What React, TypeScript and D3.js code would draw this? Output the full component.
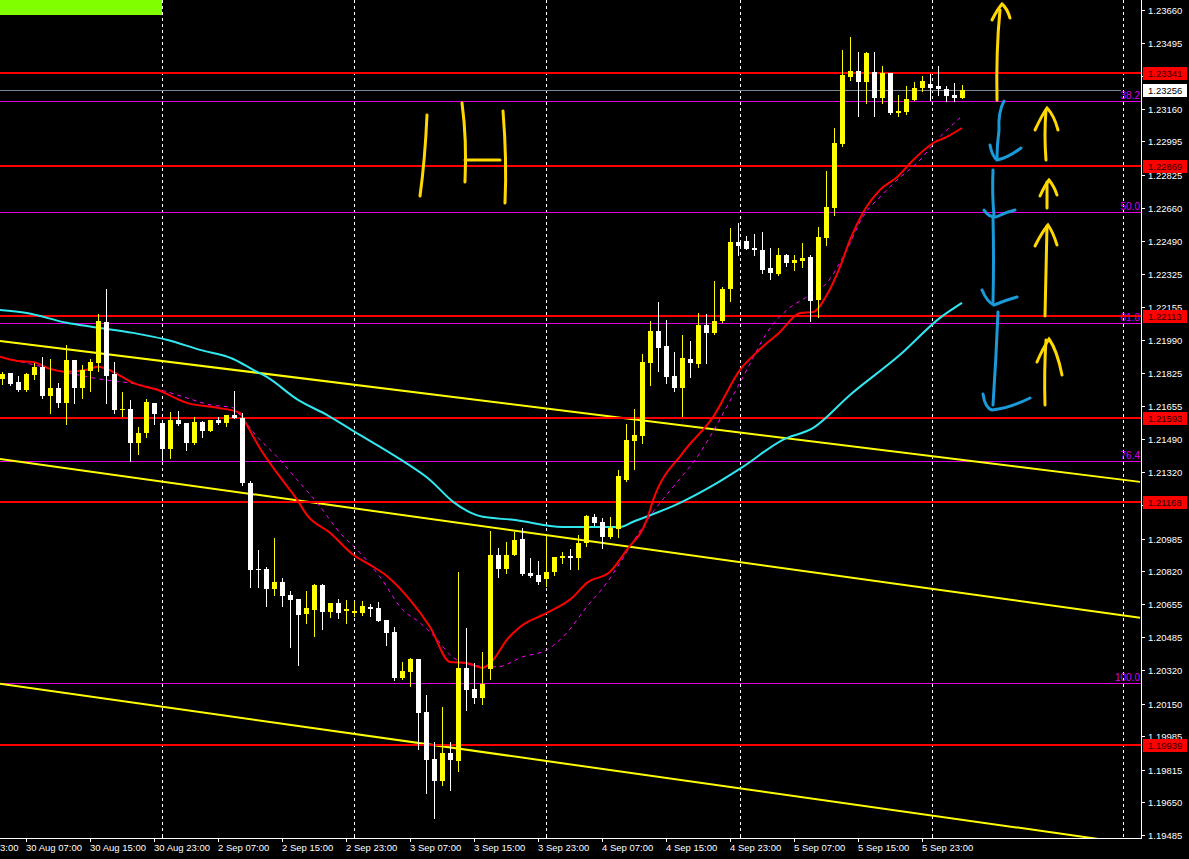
import React from 'react';
import * as d3 from 'd3';

// EURUSD H1, bar 0 = 30 Aug 04:00
const opens = [
  1.21793, 1.21824, 1.21778, 1.21738, 1.21813, 1.21854, 1.21707, 1.21748, 1.21672, 1.21889,
  1.21748, 1.21834, 1.21874, 1.22082, 1.21819, 1.21636, 1.21641, 1.21469, 1.21520, 1.21672,
  1.21571, 1.21439, 1.21586, 1.21571, 1.21469, 1.21576, 1.21530, 1.21586, 1.21571, 1.21611,
  1.21596, 1.21267, 1.20832, 1.20832, 1.20731, 1.20766, 1.20700, 1.20680, 1.20604, 1.20624,
  1.20751, 1.20614, 1.20660, 1.20619, 1.20609, 1.20609, 1.20640, 1.20635, 1.20574, 1.20513,
  1.20280, 1.20311, 1.20376, 1.20108, 1.19870, 1.19759, 1.19901, 1.19860, 1.20331, 1.20225,
  1.20179, 1.20326, 1.20903, 1.20832, 1.20903, 1.20984, 1.20812, 1.20801, 1.20781, 1.20817,
  1.20888, 1.20898, 1.20888, 1.20963, 1.21095, 1.21070, 1.20994, 1.21034, 1.21282, 1.21480,
  1.21505, 1.21874, 1.22036, 1.21960, 1.21808, 1.21748, 1.21894, 1.21869, 1.22066, 1.22026,
  1.22087, 1.22249, 1.22486, 1.22492, 1.22456, 1.22446, 1.22355, 1.22325, 1.22421, 1.22380,
  1.22390, 1.22411, 1.22193, 1.22507, 1.22659, 1.22982, 1.23321, 1.23352, 1.23296, 1.23347,
  1.23215, 1.23342, 1.23139, 1.23144, 1.23205, 1.23266, 1.23286, 1.23276, 1.23261, 1.23230,
  1.23215,
];
const highs = [
  1.21829, 1.21824, 1.21808, 1.21824, 1.21874, 1.21905, 1.21894, 1.21773, 1.21965, 1.21889,
  1.21864, 1.21894, 1.22122, 1.22249, 1.21879, 1.21727, 1.21687, 1.21550, 1.21692, 1.21672,
  1.21576, 1.21626, 1.21631, 1.21571, 1.21601, 1.21581, 1.21586, 1.21601, 1.21611, 1.21733,
  1.21621, 1.21277, 1.20928, 1.20842, 1.20989, 1.20786, 1.20721, 1.20680, 1.20721, 1.20756,
  1.20756, 1.20660, 1.20680, 1.20675, 1.20670, 1.20670, 1.20655, 1.20665, 1.20574, 1.20538,
  1.20361, 1.20382, 1.20376, 1.20194, 1.19956, 1.20134, 1.19956, 1.20817, 1.20533, 1.20356,
  1.20412, 1.21024, 1.20938, 1.20968, 1.21019, 1.21039, 1.20888, 1.20872, 1.20999, 1.20893,
  1.20918, 1.20933, 1.21004, 1.21105, 1.21110, 1.21090, 1.21095, 1.21333, 1.21566, 1.21641,
  1.21920, 1.22087, 1.22183, 1.22092, 1.21930, 1.22016, 1.21986, 1.22127, 1.22122, 1.22289,
  1.22259, 1.22557, 1.22583, 1.22517, 1.22527, 1.22537, 1.22456, 1.22456, 1.22426, 1.22421,
  1.22481, 1.22421, 1.22562, 1.22846, 1.23063, 1.23458, 1.23524, 1.23448, 1.23448, 1.23448,
  1.23377, 1.23342, 1.23230, 1.23276, 1.23296, 1.23326, 1.23337, 1.23377, 1.23276, 1.23291,
  1.23281,
];
const lows = [
  1.21768, 1.21763, 1.21733, 1.21733, 1.21793, 1.21697, 1.21621, 1.21652, 1.21566, 1.21672,
  1.21697, 1.21733, 1.21834, 1.21672, 1.21621, 1.21606, 1.21378, 1.21414, 1.21500, 1.21566,
  1.21383, 1.21394, 1.21560, 1.21434, 1.21464, 1.21500, 1.21530, 1.21566, 1.21555, 1.21596,
  1.21257, 1.20741, 1.20741, 1.20645, 1.20700, 1.20645, 1.20437, 1.20346, 1.20559, 1.20493,
  1.20528, 1.20589, 1.20584, 1.20559, 1.20594, 1.20599, 1.20594, 1.20569, 1.20447, 1.20270,
  1.20275, 1.20240, 1.19921, 1.19698, 1.19572, 1.19739, 1.19714, 1.19810, 1.20118, 1.20154,
  1.20149, 1.20275, 1.20791, 1.20812, 1.20903, 1.20801, 1.20791, 1.20756, 1.20746, 1.20801,
  1.20862, 1.20832, 1.20832, 1.20948, 1.21054, 1.20938, 1.20989, 1.20994, 1.21277, 1.21338,
  1.21469, 1.21763, 1.21834, 1.21773, 1.21733, 1.21606, 1.21803, 1.21854, 1.21874, 1.22021,
  1.22082, 1.22188, 1.22421, 1.22451, 1.22421, 1.22330, 1.22299, 1.22319, 1.22365, 1.22345,
  1.22360, 1.22087, 1.22107, 1.22471, 1.22623, 1.22972, 1.23306, 1.23124, 1.23190, 1.23124,
  1.23190, 1.23134, 1.23124, 1.23134, 1.23205, 1.23251, 1.23205, 1.23230, 1.23200, 1.23200,
  1.23215,
];
const closes = [
  1.21819, 1.21768, 1.21738, 1.21819, 1.21854, 1.21707, 1.21748, 1.21672, 1.21889, 1.21748,
  1.21839, 1.21879, 1.22087, 1.21808, 1.21636, 1.21641, 1.21469, 1.21520, 1.21677, 1.21616,
  1.21439, 1.21586, 1.21566, 1.21469, 1.21576, 1.21530, 1.21586, 1.21571, 1.21611, 1.21596,
  1.21267, 1.20827, 1.20827, 1.20731, 1.20766, 1.20695, 1.20675, 1.20599, 1.20635, 1.20751,
  1.20614, 1.20660, 1.20609, 1.20629, 1.20619, 1.20645, 1.20629, 1.20569, 1.20508, 1.20280,
  1.20316, 1.20376, 1.20103, 1.19865, 1.19759, 1.19901, 1.19865, 1.20331, 1.20220, 1.20179,
  1.20250, 1.20903, 1.20832, 1.20903, 1.20979, 1.20807, 1.20796, 1.20766, 1.20817, 1.20893,
  1.20898, 1.20888, 1.20963, 1.21100, 1.21065, 1.20994, 1.21039, 1.21302, 1.21485, 1.21510,
  1.21879, 1.22036, 1.21950, 1.21803, 1.21748, 1.21900, 1.21874, 1.22066, 1.22026, 1.22087,
  1.22249, 1.22486, 1.22466, 1.22451, 1.22446, 1.22345, 1.22330, 1.22421, 1.22380, 1.22395,
  1.22406, 1.22188, 1.22512, 1.22664, 1.22987, 1.23331, 1.23352, 1.23296, 1.23443, 1.23215,
  1.23342, 1.23139, 1.23149, 1.23210, 1.23266, 1.23301, 1.23266, 1.23261, 1.23225, 1.23215,
  1.23256,
];

// moving averages, read as [bar, price]
const maRed: [number, number][] = [
  [-0.25, 1.21905], [1.9, 1.21884], [3.9, 1.21879], [6, 1.21844], [8.1, 1.21829], [10.6, 1.21839],
  [11.9, 1.21854], [13.1, 1.21844], [13.9, 1.21829], [16.4, 1.21773], [19.4, 1.21738], [23.1, 1.21672],
  [26.9, 1.21647], [29.75, 1.21621], [30.1, 1.21596], [32.6, 1.21419], [34.75, 1.21297], [36.9, 1.21181],
  [38.1, 1.21105], [41, 1.21014], [43.9, 1.20903], [46, 1.20852], [48.1, 1.20796], [51, 1.20675],
  [53.5, 1.20538], [56, 1.20361], [58.1, 1.20356], [60.1, 1.20331], [61.4, 1.20371], [63.1, 1.20473],
  [64.75, 1.20538], [68.1, 1.20609], [71.4, 1.20690], [73.1, 1.20761], [76, 1.20817], [78.1, 1.20928],
  [80.6, 1.21080], [81.4, 1.21181], [85.1, 1.21419], [88.9, 1.21601], [92.25, 1.21839], [94.4, 1.21930],
  [97.25, 1.22031], [99.75, 1.22127], [101.4, 1.22132], [103.1, 1.22218], [104.75, 1.22360], [106, 1.22497],
  [107.6, 1.22633], [109.75, 1.22750], [111.9, 1.22815], [113.9, 1.22901], [116.4, 1.22987], [118.1, 1.23018],
  [120, 1.23063],
];
const maMagenta: [number, number][] = [
  [1.4, 1.21889], [5.1, 1.21854], [11.4, 1.21798], [17.25, 1.21763], [19.75, 1.21738], [23.1, 1.21697],
  [26, 1.21662], [28.9, 1.21647], [29.4, 1.21626], [31.9, 1.21500], [34.4, 1.21399], [36.9, 1.21282],
  [39.4, 1.21166], [42.25, 1.21014], [44.75, 1.20913], [47.25, 1.20791], [50.1, 1.20624], [52.25, 1.20559],
  [54.4, 1.20473], [56, 1.20397], [58.5, 1.20346], [61.9, 1.20336], [65.1, 1.20387], [68.1, 1.20422],
  [70.6, 1.20508], [73.1, 1.20640], [75.6, 1.20761], [77.25, 1.20862], [79.75, 1.21024], [82.25, 1.21166],
  [83.9, 1.21247], [87.25, 1.21419], [90.6, 1.21652], [93.1, 1.21839], [95.6, 1.22026], [98.1, 1.22142],
  [100.6, 1.22208], [103.1, 1.22279], [105.6, 1.22446], [107.6, 1.22613], [109.75, 1.22714], [111.9, 1.22800],
  [114.75, 1.22901], [116.9, 1.23003], [119.75, 1.23114],
];
const maCyan: [number, number][] = [
  [-0.25, 1.22142], [3.1, 1.22127], [8.1, 1.22077], [11.4, 1.22056], [16.4, 1.22026], [20.6, 1.21991],
  [24.75, 1.21940], [28.9, 1.21894], [31.4, 1.21839], [33.1, 1.21803], [37, 1.21687], [40.6, 1.21611],
  [43.9, 1.21530], [50.1, 1.21378], [53.5, 1.21282], [56.4, 1.21171], [60.1, 1.21095], [63.9, 1.21080],
  [70.1, 1.21044], [77.25, 1.21044], [78.9, 1.21070], [84.75, 1.21166], [89.4, 1.21267], [92.6, 1.21348],
  [97.6, 1.21485], [101.4, 1.21545], [106, 1.21712], [112.25, 1.21915], [117.25, 1.22102], [120, 1.22178],
];

// trend channel lines: [bar0, price0, bar1, price1]
const trendLines = [
  [-0.25, 1.21985, 142.25, 1.21272],
  [-0.25, 1.21388, 142.25, 1.20584],
  [-0.25, 1.20250, 142.25, 1.19435],
];

const redLevels = [1.23341, 1.22869, 1.22113, 1.21593, 1.21168, 1.19939];
const fibLabels = ['38.2', '50.0', '61.8', '76.4', '100.0'];
const fibPrices = [1.23200, 1.22638, 1.22077, 1.21380, 1.20255];
const bidPrice = 1.23256;

const priceTicks = [
  1.23660, 1.23495, 1.23325, 1.23160, 1.22995, 1.22825, 1.22660, 1.22490, 1.22325, 1.22155,
  1.21990, 1.21825, 1.21655, 1.21490, 1.21320, 1.21155, 1.20985, 1.20820, 1.20655, 1.20485,
  1.20320, 1.20150, 1.19985, 1.19815, 1.19650, 1.19485,
];
const timeLabels = [
  '29 Aug 23:00', '30 Aug 07:00', '30 Aug 15:00', '30 Aug 23:00', '2 Sep 07:00', '2 Sep 15:00',
  '2 Sep 23:00', '3 Sep 07:00', '3 Sep 15:00', '3 Sep 23:00', '4 Sep 07:00', '4 Sep 15:00',
  '4 Sep 23:00', '5 Sep 07:00', '5 Sep 15:00', '5 Sep 23:00',
];
const timeLabelBars = [-5, 3, 11, 19, 27, 35, 43, 51, 59, 67, 75, 83, 91, 99, 107, 115];
const daySeparatorBars = [20, 44, 68, 92.2, 116.2, 140.1];

// hand drawn marks (screen pixels)
const yellowScribbles = [
  'M427,115 Q425,160 420,196',
  'M462,103 Q467,140 465,182',
  'M465,160 L500,160',
  'M503,111 Q507,160 505,203',
  'M997,100 Q996,50 1000,10',
  'M992,20 Q997,10 1002,4 Q1007,8 1010,18',
  'M1046,160 Q1044,135 1046,110',
  'M1035,130 Q1042,115 1047,108 Q1054,115 1058,130',
  'M1047,208 L1047,182',
  'M1040,196 Q1045,185 1049,180 Q1054,186 1057,195',
  'M1045,316 Q1046,270 1047,226',
  'M1035,246 Q1042,232 1048,225 Q1053,232 1057,245',
  'M1045,405 Q1044,370 1046,340',
  'M1037,362 Q1043,348 1049,339 Q1057,350 1062,375',
];
const blueScribbles = [
  'M1004,101 Q998,112 999,130 Q997,145 997,158',
  'M990,145 Q992,156 997,160 Q1008,158 1021,148',
  'M993,170 Q992,195 994,216',
  'M984,210 Q988,217 996,217 Q1006,212 1015,210',
  'M993,217 Q994,260 993,302',
  'M982,290 Q987,302 994,305 Q1006,300 1017,297',
  'M998,312 Q996,360 993,405',
  'M983,394 Q985,408 992,410 Q1010,408 1030,398',
];

const W = 1189;
const H = 859;
const PLOT_R = 1141;
const PLOT_B = 838;
const FONT = '"Liberation Sans", Arial, sans-serif';

const App = () => {
  const x = d3.scaleLinear().domain([0, 120]).range([2, 962]);
  const y = d3.scaleLinear().domain([1.19485, 1.23660]).range([835, 10]);
  const line = d3.line<[number, number]>()
    .x((d) => x(d[0]))
    .y((d) => y(d[1]))
    .curve(d3.curveMonotoneX);

  const candles = opens.map((o, i) => {
    const c = closes[i];
    const bull = c >= o;
    const col = bull ? '#ffff00' : '#ffffff';
    const cx = Math.round(x(i));
    const yTop = Math.round(y(Math.max(o, c)));
    const yBot = Math.round(y(Math.min(o, c)));
    return (
      <g key={i}>
        <line x1={cx + 0.5} x2={cx + 0.5} y1={Math.round(y(highs[i]))} y2={Math.round(y(lows[i])) + 1}
          stroke={col} strokeWidth={1} />
        <rect x={cx - 2} y={yTop} width={5} height={Math.max(1, yBot - yTop)} fill={col} />
      </g>
    );
  });

  return (
    <svg width={W} height={H} style={{ position: 'absolute', left: 0, top: 0, background: '#000' }}
      fontFamily={FONT}>
      <defs>
        <clipPath id="plot"><rect x={0} y={0} width={PLOT_R} height={PLOT_B} /></clipPath>
      </defs>
      <rect x={0} y={0} width={W} height={H} fill="#000" />
      <g clipPath="url(#plot)">
        {daySeparatorBars.map((b) => (
          <line key={b} x1={Math.round(x(b)) + 0.5} x2={Math.round(x(b)) + 0.5} y1={0} y2={PLOT_B}
            stroke="#fff" strokeDasharray="3,3" />
        ))}
        <rect x={0} y={0} width={162} height={15} fill="#80ff00" />
        {fibPrices.map((p, i) => (
          <g key={i}>
            <line x1={0} x2={PLOT_R} y1={Math.round(y(p)) + 0.5} y2={Math.round(y(p)) + 0.5} stroke="#e000e0" />
            <text x={PLOT_R - 1} y={Math.round(y(p)) - 2} textAnchor="end" fontSize={10} fill="#d800ff">
              {fibLabels[i]}
            </text>
          </g>
        ))}
        <line x1={0} x2={1121} y1={Math.round(y(bidPrice)) + 0.5} y2={Math.round(y(bidPrice)) + 0.5}
          stroke="#778899" />
        {trendLines.map((t, i) => (
          <line key={i} x1={x(t[0])} y1={y(t[1])} x2={x(t[2])} y2={y(t[3])} stroke="#ffff00" strokeWidth={2} />
        ))}
        {redLevels.map((p) => (
          <line key={p} x1={0} x2={PLOT_R} y1={Math.round(y(p))} y2={Math.round(y(p))} stroke="#ff0000"
            strokeWidth={2} />
        ))}
        <path d={line(maCyan) || ''} fill="none" stroke="#30e8f0" strokeWidth={2} />
        <path d={line(maMagenta) || ''} fill="none" stroke="#ff00ff" strokeWidth={1} strokeDasharray="4,4" />
        <path d={line(maRed) || ''} fill="none" stroke="#ff0000" strokeWidth={2} />
        {candles}
        {yellowScribbles.map((d, i) => (
          <path key={i} d={d} fill="none" stroke="#ffd800" strokeWidth={3} strokeLinecap="round" />
        ))}
        {blueScribbles.map((d, i) => (
          <path key={i} d={d} fill="none" stroke="#1a9ad8" strokeWidth={3} strokeLinecap="round" />
        ))}
      </g>

      {/* axes */}
      <line x1={PLOT_R + 0.5} x2={PLOT_R + 0.5} y1={0} y2={PLOT_B + 1} stroke="#fff" />
      <line x1={0} x2={PLOT_R + 1} y1={PLOT_B + 0.5} y2={PLOT_B + 0.5} stroke="#fff" />
      {priceTicks.map((p) => (
        <g key={p}>
          <line x1={PLOT_R} x2={PLOT_R + 4} y1={Math.round(y(p)) + 0.5} y2={Math.round(y(p)) + 0.5} stroke="#fff" />
          <text x={PLOT_R + 7} y={Math.round(y(p)) + 4} fontSize={9.5} fill="#fff">{p.toFixed(5)}</text>
        </g>
      ))}
      {timeLabels.map((t, i) => {
        const tx = Math.round(x(timeLabelBars[i]));
        return (
          <g key={t}>
            <line x1={tx + 0.5} x2={tx + 0.5} y1={PLOT_B} y2={PLOT_B + 4} stroke="#fff" />
            <text x={Math.max(tx, 0)} y={851} fontSize={9.5} fill="#fff">{i === 0 ? '3:00' : t}</text>
          </g>
        );
      })}
      {daySeparatorBars.slice(0, 5).map((b) => (
        <line key={b} x1={Math.round(x(b)) + 0.5} x2={Math.round(x(b)) + 0.5} y1={PLOT_B - 4} y2={PLOT_B}
          stroke="#fff" />
      ))}
      {redLevels.map((p) => (
        <g key={p}>
          <rect x={PLOT_R + 2} y={Math.round(y(p)) - 6} width={44} height={13} fill="#ff0000" />
          <text x={PLOT_R + 7} y={Math.round(y(p)) + 4} fontSize={9.5} fill="#300000">{p.toFixed(5)}</text>
        </g>
      ))}
      <rect x={PLOT_R + 2} y={Math.round(y(bidPrice)) - 6} width={44} height={13} fill="#fff" />
      <text x={PLOT_R + 7} y={Math.round(y(bidPrice)) + 4} fontSize={9.5} fill="#000">{bidPrice.toFixed(5)}</text>
    </svg>
  );
};

export default App;
